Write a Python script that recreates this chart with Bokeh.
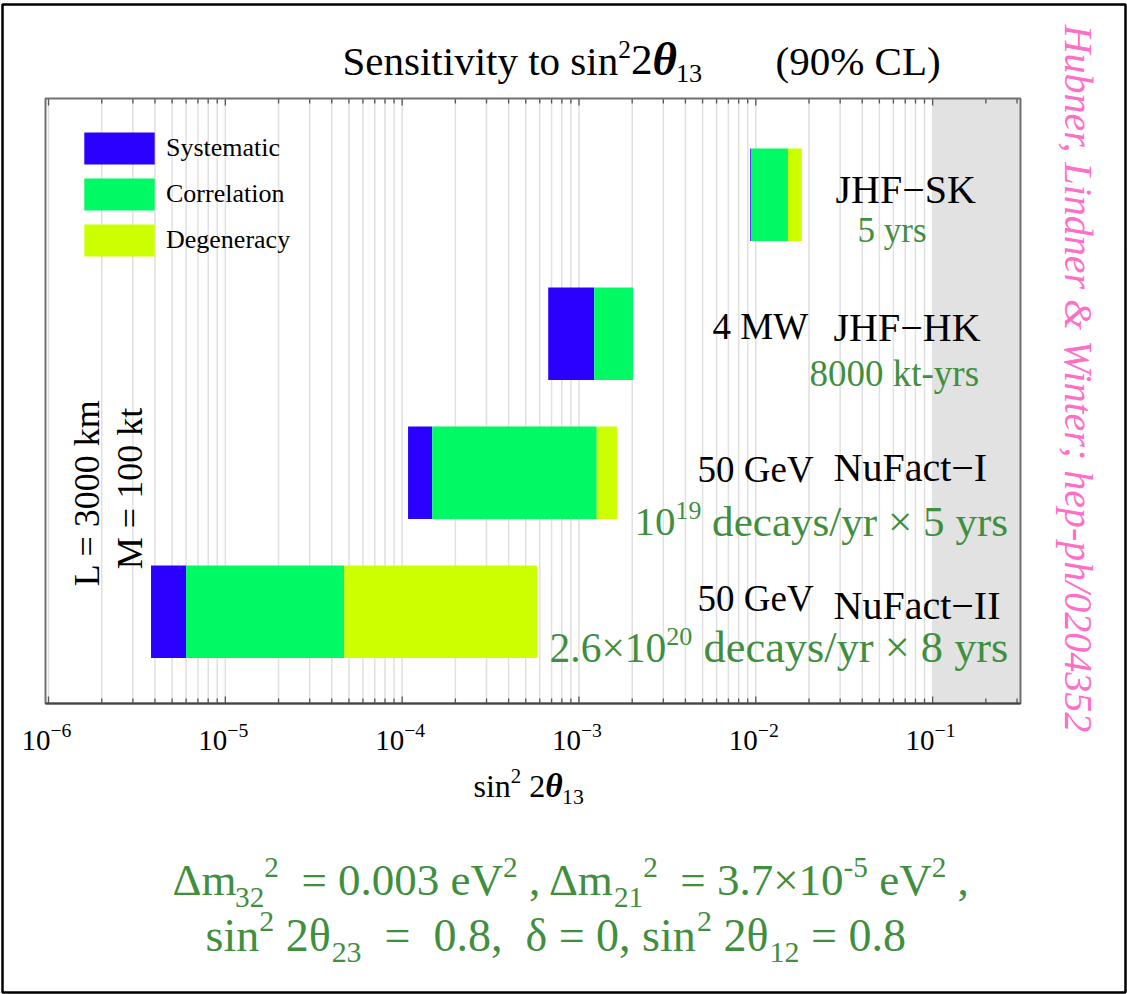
import math
from bokeh.plotting import figure
from bokeh.models import Range1d, ColumnDataSource, Label, Legend, LegendItem
from bokeh.embed import file_html
from bokeh.resources import INLINE

# ---------------- data ----------------
experiments = ["JHF-SK", "JHF-HK", "NuFact-I", "NuFact-II"]
stat_limit = [9.3e-3, 6.7e-4, 1.08e-4, 3.8e-6]     # left edge (statistics only)
sys_limit = [9.4e-3, 1.22e-3, 1.48e-4, 6.0e-6]      # + systematics
corr_limit = [1.52e-2, 2.02e-3, 1.26e-3, 4.7e-5]    # + correlations
degen_limit = [1.82e-2, 2.02e-3, 1.64e-3, 5.8e-4]   # + degeneracies
excluded_from = 0.1                                  # grey (excluded) region
tick_decades = [-6, -5, -4, -3, -2, -1]
minor_mult = [2, 3, 4, 5, 6, 7, 8, 9]

# ---------------- geometry (canvas px, top-left origin) ----------------
W, H = 1127, 994
FL, FR, FT, FB = 45, 1020, 98, 703          # plot-area box
LOG_LO, LOG_HI = -6.017, -0.503             # log10 range of the plot area
K = (LOG_HI - LOG_LO) / (FR - FL)           # decades per px
ROW = 139.0
Y_HI = (FB - FT) / ROW
Y_OFF = 0.66
BAR_H = 0.665
BASE_SHIFT = 0.38                           # alphabetic baseline correction (em)

GREEN_TXT = "#3f8f3f"
FONT = "Liberation Serif"


def X(px):
    return 10 ** (LOG_LO + (px - FL) * K)


def Y(py):
    return (FB - py) / ROW


def PX(xv):
    return FL + (math.log10(xv) - LOG_LO) / K


p = figure(width=W, height=H, x_axis_type="log",
           x_axis_location=None, y_axis_location=None,
           x_range=Range1d(X(0), X(W)), y_range=Range1d(Y(H), Y(0)),
           output_backend="svg", toolbar_location=None, min_border=0)
p.outline_line_color = None
p.background_fill_color = "white"
p.border_fill_color = "white"
p.xgrid.visible = False
p.ygrid.visible = False

x_lo, x_hi = 10 ** LOG_LO, 10 ** LOG_HI

# grid lines at every major/minor tick
major = [10.0 ** d for d in tick_decades]
minor = [m * 10.0 ** d for d in [-7] + tick_decades for m in minor_mult]
minor = [v for v in minor if x_lo < v < x_hi]
grid_x = major + minor
p.segment(x0=grid_x, y0=[0] * len(grid_x), x1=grid_x, y1=[Y_HI] * len(grid_x),
          line_color="#e0e0e0", line_width=1.5)

# grey excluded region
p.quad(left=[excluded_from], right=[x_hi], bottom=[0], top=[Y_HI],
       fill_color="#e2e2e2", line_color=None)

# bars
n = len(experiments)
ys = [Y_OFF + (n - 1 - i) for i in range(n)]
src = ColumnDataSource(dict(y=ys, stat=stat_limit, sys=sys_limit,
                            corr=corr_limit, degen=degen_limit))
r_sys = p.hbar(y="y", left="stat", right="sys", height=BAR_H, source=src,
               fill_color="#2b00ff", line_color=None)
r_corr = p.hbar(y="y", left="sys", right="corr", height=BAR_H, source=src,
                fill_color="#00fa64", line_color=None)
r_deg = p.hbar(y="y", left="corr", right="degen", height=BAR_H, source=src,
               fill_color="#ccff00", line_color=None)

# ticks (inside, bottom and top)
MAJ_LEN, MIN_LEN = 7 / ROW, 5 / ROW
for vals, ln in ((major, MAJ_LEN), (minor, MIN_LEN)):
    k = len(vals)
    p.segment(x0=vals, y0=[0] * k, x1=vals, y1=[ln] * k, line_color="#555555", line_width=1.3)
    p.segment(x0=vals, y0=[Y_HI] * k, x1=vals, y1=[Y_HI - ln] * k, line_color="#555555",
              line_width=1.3)

# plot-area outline and bottom axis line
p.quad(left=[x_lo], right=[x_hi], bottom=[0], top=[Y_HI], fill_color=None,
       line_color="#707070", line_width=2)
p.segment(x0=[x_lo], y0=[0], x1=[x_hi], y1=[0], line_color="#444444", line_width=2)

# outer picture border
p.quad(left=[X(2)], right=[X(1125)], bottom=[Y(992)], top=[Y(4)], fill_color=None,
       line_color="black", line_width=2.5)

# legend
legend = Legend(items=[LegendItem(label="Systematic", renderers=[r_sys]),
                       LegendItem(label="Correlation", renderers=[r_corr]),
                       LegendItem(label="Degeneracy", renderers=[r_deg])],
                location=(75, H - 260), orientation="vertical",
                glyph_width=88, glyph_height=40, spacing=6, padding=0, margin=0,
                label_standoff=3, label_height=40,
                label_text_font=FONT, label_text_font_size="26px",
                label_text_color="black",
                border_line_color=None, background_fill_alpha=0)
p.add_layout(legend)

# ---------------- text helpers ----------------
TW = {' ': 250, '!': 333, '(': 333, ')': 333, '%': 833, ',': 250, '-': 333, '.': 250,
      '/': 278, ';': 278, '=': 564, '&': 778, '×': 564, '−': 564, 'Δ': 612, 'δ': 500,
      'θ': 500}
for c in "0123456789":
    TW[c] = 500
TW.update(dict(zip("abcdefghijklmnopqrstuvwxyz",
                   [444, 500, 444, 500, 444, 333, 500, 500, 278, 278, 500, 278, 778,
                    500, 500, 500, 500, 333, 389, 278, 500, 500, 722, 500, 500, 444])))
TW.update(dict(zip("ABCDEFGHIJKLMNOPQRSTUVWXYZ",
                   [722, 667, 667, 722, 611, 556, 722, 722, 333, 389, 722, 611, 889,
                    722, 722, 556, 722, 667, 556, 611, 722, 722, 944, 722, 722, 611])))


def twidth(t):
    return sum(TW.get(c, 500) for c in t) / 1000.0


def label(px, py, text, size, color="black", style="normal", align="left",
          baseline="alphabetic", angle=0.0):
    if baseline == "alphabetic":
        py = py - BASE_SHIFT * size
    p.add_layout(Label(x=X(px), y=Y(py), text=text, text_font=FONT,
                       text_font_size=f"{size:.1f}px", text_color=color,
                       text_font_style=style, text_align=align,
                       text_baseline=baseline, angle=angle))


def rich(x_px, base_px, size, color, pieces):
    x = x_px
    for piece in pieces:
        txt, rel, dy = piece[0], piece[1], piece[2]
        style = piece[3] if len(piece) > 3 else "normal"
        s = size * rel
        lead = len(txt) - len(txt.lstrip(' '))
        trail = len(txt) - len(txt.rstrip(' '))
        x += lead * 0.25 * s
        t = txt.strip(' ')
        if t:
            label(x, base_px - dy * size, t, s, color, style)
            x += twidth(t) * s
        x += trail * 0.25 * s
    return x


# tick labels 10^n
for d in tick_decades:
    rich(PX(10.0 ** d) - 27, 751, 29, "black", [("10", 1, 0), (f"−{-d}", 0.68, 0.45)])

# title
rich(342, 76, 41, "black", [("Sensitivity to sin", 1, 0), ("2", 0.62, 0.42),
                            ("2", 1.05, 0), ("θ", 1.15, 0, "bold italic"),
                            ("13", 0.64, -0.17)])
label(775, 76, "(90% CL)", 41)

# x-axis title
rich(473, 798, 32, "black", [("sin", 1, 0), ("2", 0.65, 0.45), (" 2", 1, 0),
                             ("θ", 1.05, 0, "bold italic"), ("13", 0.68, -0.2)])

# experiment labels
label(835, 204, "JHF−SK", 40)
label(857, 243, "5 yrs", 35, GREEN_TXT)
label(712, 340, "4 MW", 37)
label(833, 342, "JHF−HK", 40)
label(809, 387, "8000 kt-yrs", 37, GREEN_TXT)
label(697, 483, "50 GeV", 37)
label(833, 482, "NuFact−I", 40)
rich(634, 537, 41, GREEN_TXT, [("10", 1, 0), ("19", 0.63, 0.42),
                               (" decays/yr × 5 yrs", 1.05, 0)])
label(697, 612, "50 GeV", 37)
label(833, 620, "NuFact−II", 40)
rich(549, 663, 41.5, GREEN_TXT, [("2.6×10", 1, 0), ("20", 0.63, 0.42),
                                 (" decays/yr × 8 yrs", 1.07, 0)])

# rotated labels
label(86, 492, "L = 3000 km", 36, align="center", baseline="middle", angle=math.pi / 2)
label(129, 488, "M = 100 kt", 36, align="center", baseline="middle", angle=math.pi / 2)
label(1078, 378, "Hubner, Lindner & Winter; hep-ph/0204352", 40, color="#ff6ec7",
      style="italic", align="center", baseline="middle", angle=-math.pi / 2)

# parameter formula
rich(172, 897, 45, GREEN_TXT, [("Δm", 1, 0), ("32", 0.65, -0.25), ("2", 0.65, 0.42),
                               ("  = 0.003 eV", 1, 0), ("2", 0.65, 0.42),
                               (" , Δm", 1, 0), ("21", 0.65, -0.25), ("2", 0.65, 0.42),
                               ("  = 3.7×10", 1, 0), ("-5", 0.65, 0.42),
                               (" eV", 1, 0), ("2", 0.65, 0.42), (" ,", 1, 0)])
rich(205, 952, 46, GREEN_TXT, [("sin", 1, 0), ("2", 0.65, 0.42), (" 2θ", 1, 0),
                               ("23", 0.65, -0.25), ("  =", 1, 0), ("  0.8,", 1, 0),
                               ("  δ = 0, sin", 1, 0), ("2", 0.65, 0.42), (" 2θ", 1, 0),
                               ("12", 0.65, -0.25), (" = 0.8", 1, 0)])

open("out.html", "w").write(file_html(p, INLINE))
